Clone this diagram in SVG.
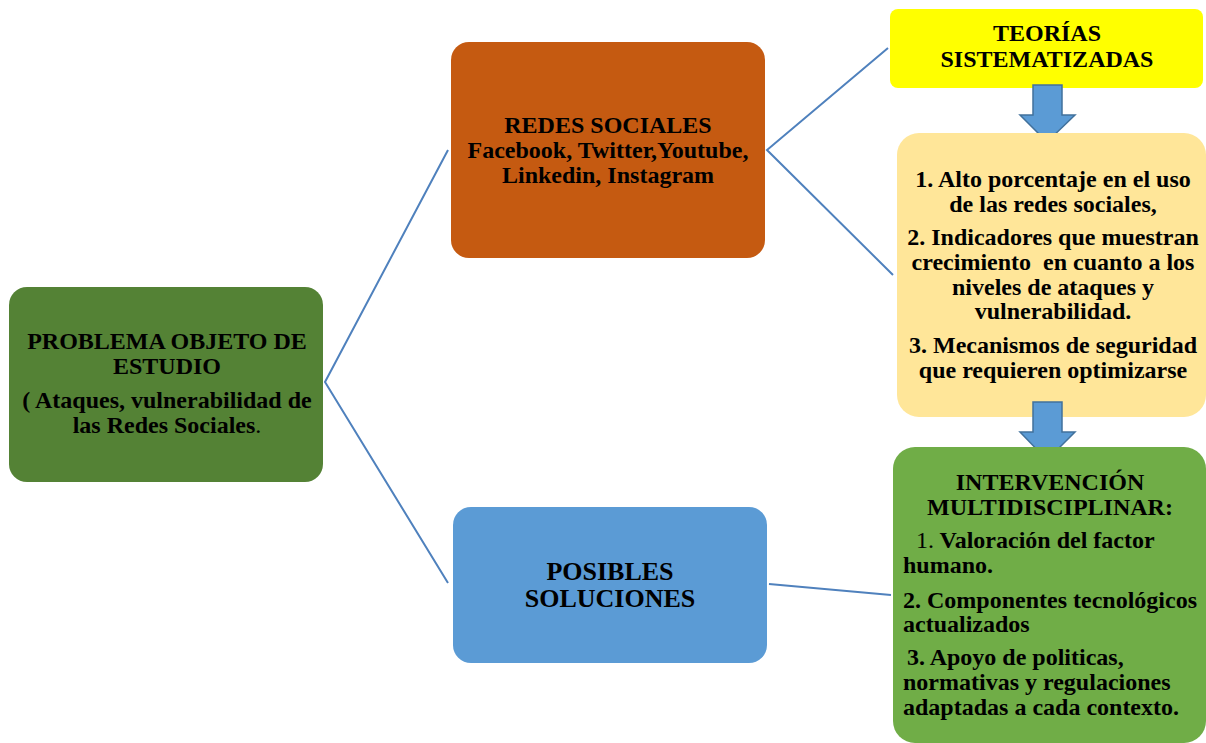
<svg xmlns="http://www.w3.org/2000/svg" width="1206" height="743" viewBox="0 0 1206 743">
<style>
text{font-family:"Liberation Serif","Times New Roman",serif;font-weight:bold;fill:#000;font-size:24px}
.c{text-anchor:middle}
.n{font-weight:normal}
.line{fill:none;stroke:#4F81BD;stroke-width:2}
.arrow{fill:#5B9BD5;stroke:#41719C;stroke-width:1.5}
</style>
<rect width="1206" height="743" fill="#fff"/>
<g id="connectors">
<polyline class="line" points="448,150 325,382 448,583"/>
<polyline class="line" points="888,48 767,150 893,275"/>
<line class="line" x1="769" y1="584" x2="891" y2="595"/>
</g>
<g id="problema">
<rect x="9" y="287" width="314" height="195" rx="18" fill="#548235"/>
<text class="c" x="167" y="349">PROBLEMA OBJETO DE</text>
<text class="c" x="167" y="374">ESTUDIO</text>
<text class="c" x="167" y="408">( Ataques, vulnerabilidad de</text>
<text class="c" x="167" y="433">las Redes Sociales<tspan class="n">.</tspan></text>
</g>
<g id="redes">
<rect x="451" y="42" width="314" height="216" rx="18" fill="#C55A11"/>
<text class="c" x="608" y="133">REDES SOCIALES</text>
<text class="c" x="608" y="158">Facebook, Twitter,Youtube,</text>
<text class="c" x="608" y="183">Linkedin, Instagram</text>
</g>
<g id="posibles">
<rect x="453" y="507" width="314" height="156" rx="18" fill="#5B9BD5"/>
<text class="c" x="610" y="580" style="font-size:26px">POSIBLES</text>
<text class="c" x="610" y="607" style="font-size:26px">SOLUCIONES</text>
</g>
<g id="teorias">
<rect x="890" y="9" width="313" height="79" rx="8" fill="#FFFF00"/>
<text class="c" x="1047" y="41">TEORÍAS</text>
<text class="c" x="1047" y="67">SISTEMATIZADAS</text>
</g>
<g id="arrow1">
<polygon class="arrow" points="1033,85 1062,85 1062,115 1075,115 1047,142 1020,115 1033,115"/>
</g>
<g id="hallazgos">
<rect x="897" y="133" width="309" height="284" rx="22" fill="#FFE699"/>
<text class="c" x="1053" y="187">1. Alto porcentaje en el uso</text>
<text class="c" x="1053" y="212">de las redes sociales,</text>
<text class="c" x="1053" y="245">2. Indicadores que muestran</text>
<text class="c" x="1053" y="270" xml:space="preserve">crecimiento  en cuanto a los</text>
<text class="c" x="1053" y="295">niveles de ataques y</text>
<text class="c" x="1053" y="319">vulnerabilidad.</text>
<text class="c" x="1053" y="353">3. Mecanismos de seguridad</text>
<text class="c" x="1053" y="378">que requieren optimizarse</text>
</g>
<g id="arrow2">
<polygon class="arrow" points="1033,402 1062,402 1062,432 1075,432 1047,460 1020,432 1033,432"/>
</g>
<g id="intervencion">
<rect x="893" y="447" width="313" height="296" rx="22" fill="#70AD47"/>
<text class="c" x="1050" y="490">INTERVENCIÓN</text>
<text class="c" x="1050" y="515">MULTIDISCIPLINAR:</text>
<text x="916" y="548"><tspan class="n">1.</tspan> Valoración del factor</text>
<text x="903" y="573">humano.</text>
<text x="903" y="608">2. Componentes tecnológicos</text>
<text x="903" y="632">actualizados</text>
<text x="907" y="665">3. Apoyo de politicas,</text>
<text x="903" y="690">normativas y regulaciones</text>
<text x="903" y="715">adaptadas a cada contexto.</text>
</g>
</svg>
